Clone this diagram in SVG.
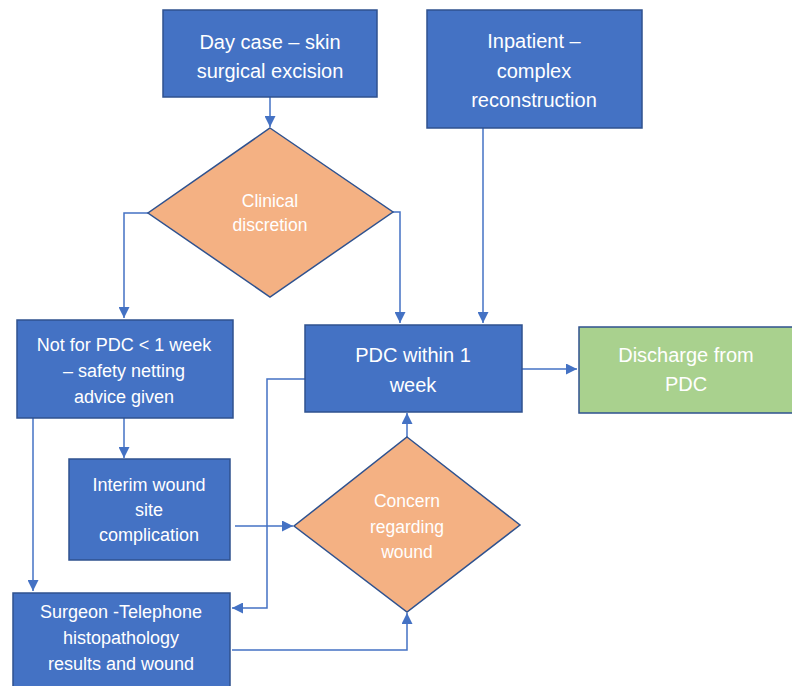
<svg xmlns="http://www.w3.org/2000/svg" width="792" height="686" viewBox="0 0 792 686">
<style>
.box{fill:#4472c4;stroke:#2f528f;stroke-width:1.5}
.green{fill:#a9d18e;stroke:#2f528f;stroke-width:1.5}
.dia{fill:#f4b183;stroke:#2f528f;stroke-width:1.5}
.t{font-family:"Liberation Sans",Arial,sans-serif;fill:#fff;text-anchor:middle}
.big{font-size:20px}
.mid{font-size:18px}
.sm{font-size:17.5px}
.c{fill:none;stroke:#4472c4;stroke-width:1.5}
</style>
<defs>
<marker id="ah" viewBox="0 0 10 10" refX="10" refY="5" markerWidth="11" markerHeight="11" markerUnits="userSpaceOnUse" orient="auto">
<path d="M0,0 L10,5 L0,10 Z" fill="#4472c4"/>
</marker>
</defs>
<rect width="792" height="686" fill="#fff"/>
<g id="connectors">
<path class="c" d="M270,97 V127" marker-end="url(#ah)"/>
<path class="c" d="M148,213 H124 V318" marker-end="url(#ah)"/>
<path class="c" d="M393,212 H400 V323" marker-end="url(#ah)"/>
<path class="c" d="M483,128 V323" marker-end="url(#ah)"/>
<path class="c" d="M522,369 H577" marker-end="url(#ah)"/>
<path class="c" d="M124,418 V458" marker-end="url(#ah)"/>
<path class="c" d="M33,418 V591" marker-end="url(#ah)"/>
<path class="c" d="M235,526 H293" marker-end="url(#ah)"/>
<path class="c" d="M407,437 V413" marker-end="url(#ah)"/>
<path class="c" d="M305,379 H267 V608 H232" marker-end="url(#ah)"/>
<path class="c" d="M232,650 H407 V613" marker-end="url(#ah)"/>
</g>
<g id="daycase">
<rect class="box" x="163" y="10" width="214" height="87"/>
<text class="t big" x="270" y="49">Day case – skin</text>
<text class="t big" x="270" y="78">surgical excision</text>
</g>
<g id="inpatient">
<rect class="box" x="427" y="10" width="215" height="118"/>
<text class="t big" x="534" y="48">Inpatient –</text>
<text class="t big" x="534" y="78">complex</text>
<text class="t big" x="534" y="107">reconstruction</text>
</g>
<g id="clinical">
<polygon class="dia" points="270,128 393,212 270,297 148,213"/>
<text class="t sm" x="270" y="207">Clinical</text>
<text class="t sm" x="270" y="231">discretion</text>
</g>
<g id="notfor">
<rect class="box" x="17" y="320" width="216" height="98"/>
<text class="t mid" x="124" y="351">Not for PDC &lt; 1 week</text>
<text class="t mid" x="124" y="377">– safety netting</text>
<text class="t mid" x="124" y="403">advice given</text>
</g>
<g id="pdc">
<rect class="box" x="305" y="325" width="217" height="87"/>
<text class="t big" x="413" y="362">PDC within 1</text>
<text class="t big" x="413" y="392">week</text>
</g>
<g id="discharge">
<rect class="green" x="579" y="327" width="220" height="86"/>
<text class="t big" x="686" y="362">Discharge from</text>
<text class="t big" x="686" y="391">PDC</text>
</g>
<g id="interim">
<rect class="box" x="69" y="459" width="161" height="101"/>
<text class="t mid" x="149" y="491">Interim wound</text>
<text class="t mid" x="149" y="516">site</text>
<text class="t mid" x="149" y="541">complication</text>
</g>
<g id="concern">
<polygon class="dia" points="407,437 520,525 407,612 294,526"/>
<text class="t sm" x="407" y="507">Concern</text>
<text class="t sm" x="407" y="533">regarding</text>
<text class="t sm" x="407" y="558">wound</text>
</g>
<g id="surgeon">
<rect class="box" x="13" y="593" width="217" height="100"/>
<text class="t mid" x="121" y="618">Surgeon -Telephone</text>
<text class="t mid" x="121" y="644">histopathology</text>
<text class="t mid" x="121" y="670">results and wound</text>
</g>
</svg>
